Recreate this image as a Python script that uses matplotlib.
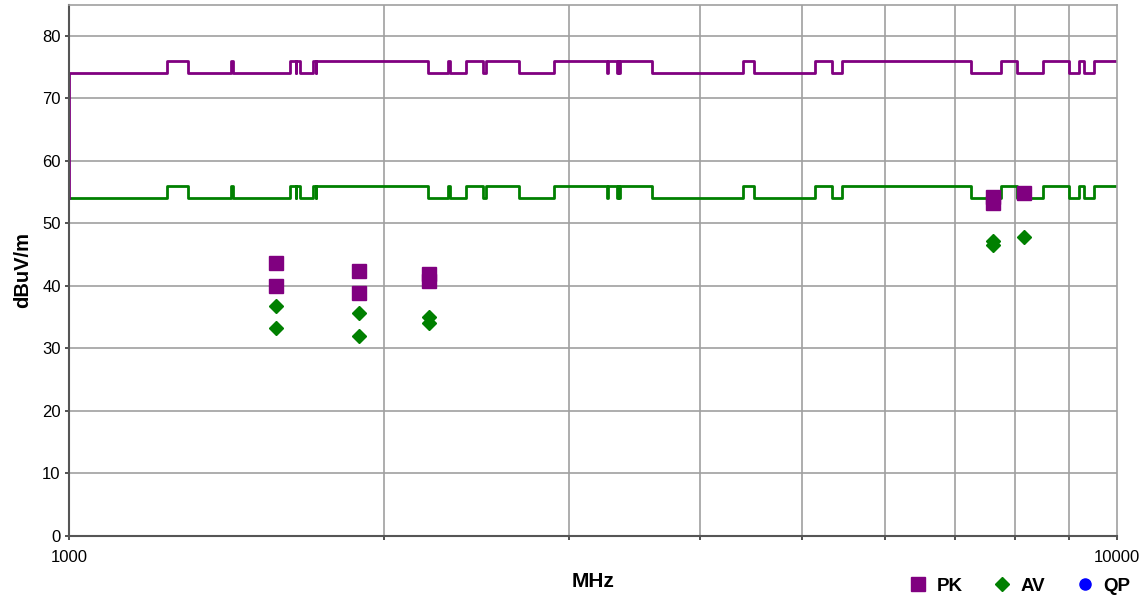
import matplotlib
matplotlib.use("Agg")
import matplotlib.pyplot as plt
from matplotlib.ticker import FixedLocator, NullFormatter, FixedFormatter

plt.rcParams["font.family"] = ["Liberation Sans", "DejaVu Sans"]

# limit line band edges (MHz) and levels (dBuV/m), step "post"
limit_freq = [1000, 1240, 1300, 1427, 1435, 1626.5, 1645.5, 1646.5, 1660, 1710,
              1718.8, 1722.2, 2200, 2300, 2310, 2390, 2483.5, 2500, 2690, 2900,
              3260, 3267, 3332, 3339, 3345.8, 3358, 3600, 4400, 4500, 5150,
              5350, 5460, 7250, 7750, 8025, 8500, 9000, 9200, 9300, 9500, 10000]
pk_limit = [74, 76, 74, 76, 74, 76, 74, 76, 74, 76,
            74, 76, 74, 76, 74, 76, 74, 76, 74, 76,
            74, 76, 74, 76, 74, 76, 74, 76, 74, 76,
            74, 76, 74, 76, 74, 76, 74, 76, 74, 76, 76]
av_limit = [54, 56, 54, 56, 54, 56, 54, 56, 54, 56,
            54, 56, 54, 56, 54, 56, 54, 56, 54, 56,
            54, 56, 54, 56, 54, 56, 54, 56, 54, 56,
            54, 56, 54, 56, 54, 56, 54, 56, 54, 56, 56]

# measured emissions
meas_freq = [1576, 1576, 1891, 1891, 2205, 2205, 7620, 7620, 8151]
pk_level = [43.6, 40.0, 42.4, 38.9, 41.9, 40.8, 54.2, 53.2, 54.8]
av_level = [36.8, 33.2, 35.6, 32.0, 35.0, 34.0, 47.2, 46.6, 47.9]
qp_freq = []
qp_level = []

fig = plt.figure(figsize=(11.44, 5.97), dpi=100)
ax = fig.add_axes([69 / 1144, 1 - 536 / 597, 1048 / 1144, 531.4 / 597])

ax.step(limit_freq, av_limit, where="post", color="#008000", lw=2)
ax.step([limit_freq[0]] + limit_freq, [av_limit[0]] + pk_limit, where="post",
        color="#800080", lw=2)

pk, = ax.plot(meas_freq, pk_level, "s", color="#800080", ms=9.5, ls="none", label="PK")
av, = ax.plot(meas_freq, av_level, "D", color="#008000", ms=7, ls="none", label="AV")
qp, = ax.plot(qp_freq, qp_level, "o", color="#0000ff", ms=8, ls="none", label="QP")

ax.set_xscale("log")
ax.set_xlim(1000, 10000)
ax.set_ylim(0, 85)
ax.xaxis.set_major_locator(FixedLocator([1000, 10000]))
ax.xaxis.set_major_formatter(FixedFormatter(["1000", "10000"]))
ax.xaxis.set_minor_locator(FixedLocator([2000, 3000, 4000, 5000, 6000, 7000, 8000, 9000]))
ax.xaxis.set_minor_formatter(NullFormatter())
ax.set_yticks(range(0, 90, 10))

ax.grid(True, axis="y", which="major", color="#a0a0a0", lw=1.2)
ax.grid(True, axis="x", which="minor", color="#a0a0a0", lw=1.2)
ax.set_axisbelow(True)

for s in ["top", "right"]:
    ax.spines[s].set_color("#a0a0a0")
    ax.spines[s].set_linewidth(1.2)
for s in ["left", "bottom"]:
    ax.spines[s].set_color("#555555")
    ax.spines[s].set_linewidth(1.5)

ax.tick_params(axis="both", which="both", direction="out", length=3, width=1.2,
               color="#333333", labelsize=12, pad=3)
ax.tick_params(axis="x", which="major", pad=7)

ax.set_xlabel("MHz", fontsize=15, fontweight="bold", labelpad=5)
ax.set_ylabel("dBuV/m", fontsize=14.5, fontweight="bold", labelpad=7)

fig.legend(handles=[pk, av, qp], loc="center left", bbox_to_anchor=(890 / 1144, 11 / 597),
           ncol=3, frameon=False, prop={"weight": "bold", "size": 13.5},
           handletextpad=0.4, columnspacing=1.5, handlelength=1.2)

fig.savefig("out.png", dpi=100)
